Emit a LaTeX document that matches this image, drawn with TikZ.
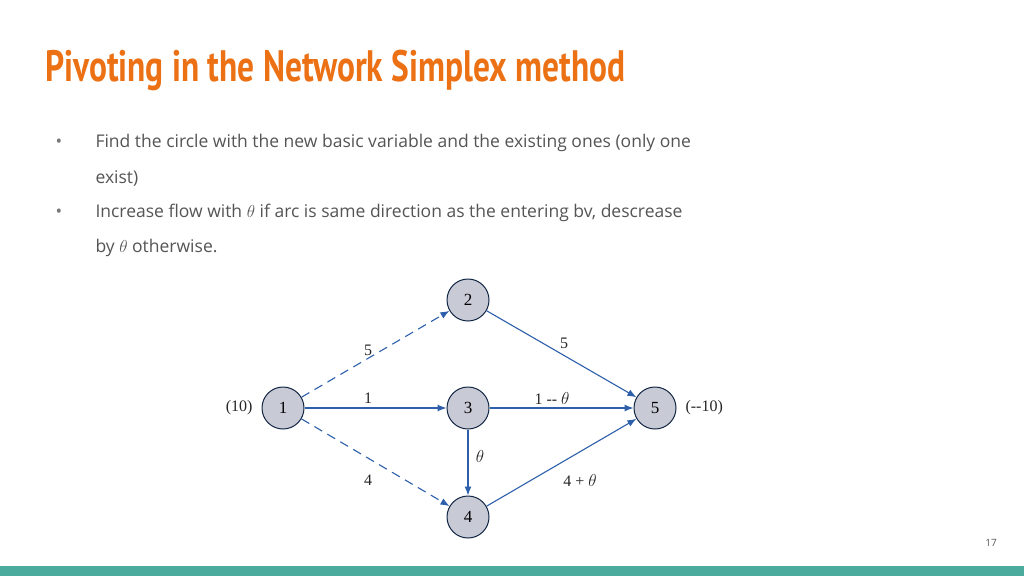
\documentclass[tikz,border=0pt]{standalone}
\usepackage{fontspec}
\usepackage{graphicx}
\usetikzlibrary{arrows.meta}
\setmainfont{Open Sans}
\newfontfamily\titlefont{PT Sans}
\newfontfamily\serf{Liberation Serif}
\definecolor{ttl}{RGB}{236,112,20}
\definecolor{body}{RGB}{85,85,85}
\definecolor{arc}{RGB}{45,95,170}
\definecolor{nfill}{RGB}{200,203,214}
\definecolor{bar}{RGB}{75,172,158}
\begin{document}
\begin{tikzpicture}[x=1pt,y=-1pt,
  nd/.style={circle,draw=arc!40!black,line width=1pt,fill=nfill,minimum size=42pt,inner sep=0pt,font=\serf\fontsize{17}{17}\selectfont},
  ar/.style={draw=arc,line width=1.1pt,-{Latex[length=9pt,width=7pt]}},
  lb/.style={font=\serf\fontsize{16}{16}\selectfont,text=black!85},
  bt/.style={anchor=west,text=body,font=\fontsize{17.5}{20}\selectfont}]
\useasboundingbox[fill=white] (0,0) rectangle (1024,576);
\fill[bar] (0,566) rectangle (1024,576);
\node[anchor=west,text=ttl,inner sep=0pt] (t) at (45,70) {\scalebox{0.76}[1]{\titlefont\bfseries\fontsize{44}{44}\selectfont Pivoting in the Network Simplex method}};
\node[bt,text=body!80] (b1) at (52,143) {\textbullet};
\node[bt,text=body!80] (b2) at (52,213) {\textbullet};
\node[bt] (l1) at (92,143) {Find the circle with the new basic variable and the existing ones (only one};
\node[bt] (l2) at (92,178) {exist)};
\node[bt] (l3) at (92,213) {Increase flow with $\theta$ if arc is same direction as the entering bv, descrease};
\node[bt] (l4) at (92,248) {by $\theta$ otherwise.};
\node[text=body,font=\fontsize{10}{10}\selectfont] (pg) at (991,543) {17};
\node[nd] (n1) at (283,408) {1};
\node[nd] (n2) at (468,300) {2};
\node[nd] (n3) at (468,408) {3};
\node[nd] (n4) at (468,517) {4};
\node[nd] (n5) at (655,408) {5};
\node[lb,anchor=east] (s1) at (256,408) {(10)};
\node[lb,anchor=west] (s5) at (682,408) {(--10)};
\draw[ar,dash pattern=on 9pt off 6pt] (n1) -- (n2);
\draw[ar,dash pattern=on 9pt off 6pt] (n1) -- (n4);
\draw[ar] (n1) -- (n3);
\draw[ar] (n3) -- (n5);
\draw[ar] (n2) -- (n5);
\draw[ar] (n3) -- (n4);
\draw[ar] (n4) -- (n5);
\node[lb] (a12) at (368,350) {5};
\node[lb] (a14) at (368,480) {4};
\node[lb] (a13) at (368,398) {1};
\node[lb] (a35) at (552,398) {1 -- $\theta$};
\node[lb] (a25) at (564,343) {5};
\node[lb] (a34) at (480,456) {$\theta$};
\node[lb] (a45) at (580,480) {4 + $\theta$};
\end{tikzpicture}
\end{document}
